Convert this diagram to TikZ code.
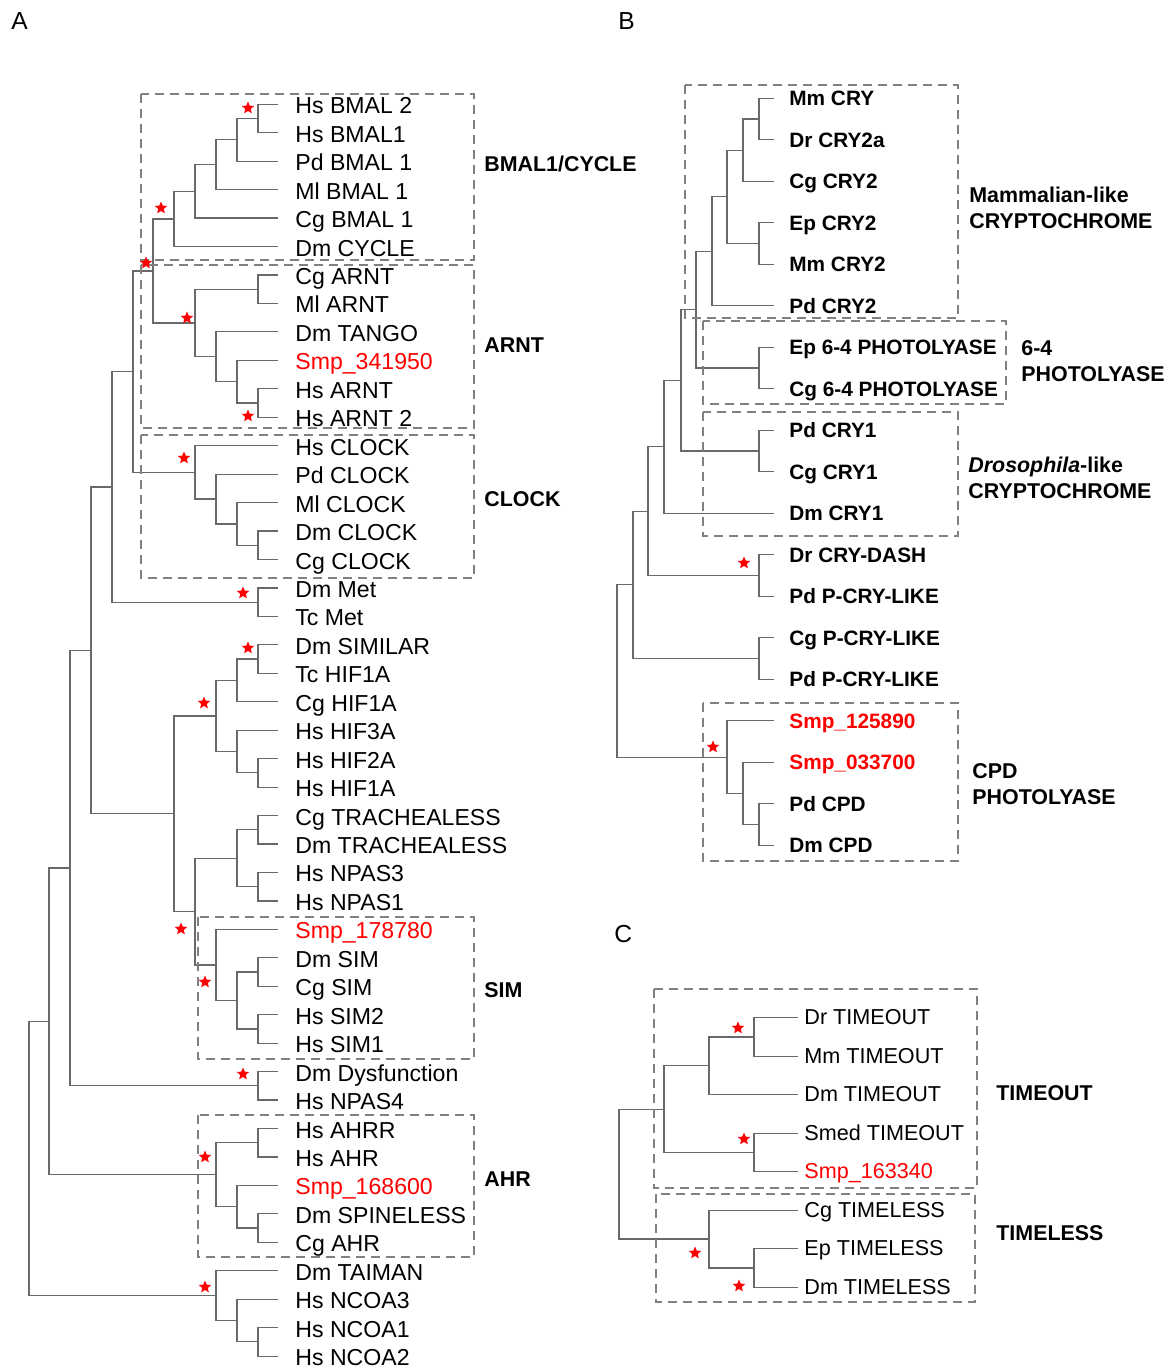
\documentclass[tikz,border=0pt]{standalone}
\usepackage{fontspec}
\setmainfont{Liberation Sans}
\usetikzlibrary{calc,shapes.geometric}

\definecolor{treegray}{RGB}{105,105,105}
\definecolor{boxgray}{RGB}{128,128,128}
\definecolor{smp}{RGB}{255,0,0}

\tikzset{
	branch/.style={draw=treegray, line width=0.6pt},
	grpbox/.style={draw=boxgray, line width=0.9pt, dash pattern=on 4.5pt off 3pt},
	leafA/.style={anchor=base west, inner sep=0pt, font=\fontsize{11.55}{13}\selectfont},
	leafB/.style={anchor=base west, inner sep=0pt, font=\fontsize{10.4}{12}\selectfont\bfseries},
	leafC/.style={anchor=base west, inner sep=0pt, font=\fontsize{10.8}{13}\selectfont},
	grplabel/.style={anchor=base west, inner sep=0pt, align=left, font=\fontsize{10.7}{13}\selectfont\bfseries},
	panel/.style={anchor=base west, inner sep=0pt, font=\fontsize{12.3}{14}\selectfont},
	boot/.style={star, star points=5, star point ratio=2.2, fill=smp, draw=none, inner sep=0pt, minimum size=6.5pt}
}

\newcommand{\clade}[4]{%
	\coordinate (#1m) at ($(#3)!.5!(#4)$);
	\coordinate (#1) at (#2,0 |- #1m);
	\draw[branch] (#3) -| (#1) |- (#4);
}

\begin{document}
\begin{tikzpicture}[x=0.5pt, y=-0.5pt]

	\useasboundingbox (0,0) rectangle (1171,1369);

	\node[panel] (pA) at (11,29.3) {A};
	\node[panel] (pB) at (618,30) {B};
	\node[panel] (pC) at (614,942) {C};

	\foreach \t [count=\i from 0] in {Hs BMAL 2, Hs BMAL1, Pd BMAL 1, Ml BMAL 1, Cg BMAL 1, Dm CYCLE,
		Cg ARNT, Ml ARNT, Dm TANGO, \textcolor{smp}{Smp\_341950}, Hs ARNT, Hs ARNT 2,
		Hs CLOCK, Pd CLOCK, Ml CLOCK, Dm CLOCK, Cg CLOCK, Dm Met, Tc Met,
		Dm SIMILAR, Tc HIF1A, Cg HIF1A, Hs HIF3A, Hs HIF2A, Hs HIF1A,
		Cg TRACHEALESS, Dm TRACHEALESS, Hs NPAS3, Hs NPAS1,
		\textcolor{smp}{Smp\_178780}, Dm SIM, Cg SIM, Hs SIM2, Hs SIM1, Dm Dysfunction, Hs NPAS4,
		Hs AHRR, Hs AHR, \textcolor{smp}{Smp\_168600}, Dm SPINELESS, Cg AHR,
		Dm TAIMAN, Hs NCOA3, Hs NCOA1, Hs NCOA2}
	{
		\coordinate (a\i) at (278,{104.3+28.45*\i});
		\node[leafA] (na\i) at (295,{113.8+28.45*\i}) {\t};
	}

	\clade{c1}{258}{a0}{a1}
	\clade{c2}{237}{c1}{a2}
	\clade{c3}{216}{c2}{a3}
	\clade{c4}{195}{c3}{a4}
	\clade{c5}{174}{c4}{a5}
	\clade{c6}{258}{a6}{a7}
	\clade{c7}{258}{a10}{a11}
	\clade{c8}{237}{a9}{c7}
	\clade{c9}{216}{a8}{c8}
	\clade{c10}{195}{c6}{c9}
	\clade{c11}{153}{c5}{c10}
	\clade{c12}{258}{a15}{a16}
	\clade{c13}{237}{a14}{c12}
	\clade{c14}{216}{a13}{c13}
	\clade{c15}{195}{a12}{c14}
	\clade{c16}{133}{c11}{c15}
	\clade{c17}{258}{a17}{a18}
	\clade{c18}{112}{c16}{c17}
	\clade{c19}{258}{a19}{a20}
	\clade{c20}{237}{c19}{a21}
	\clade{c21}{258}{a23}{a24}
	\clade{c22}{237}{a22}{c21}
	\clade{c23}{216}{c20}{c22}
	\clade{c24}{258}{a25}{a26}
	\clade{c25}{258}{a27}{a28}
	\clade{c26}{237}{c24}{c25}
	\clade{c27}{258}{a30}{a31}
	\clade{c28}{258}{a32}{a33}
	\clade{c29}{237}{c27}{c28}
	\clade{c30}{216}{a29}{c29}
	\clade{c31}{195}{c26}{c30}
	\clade{c32}{174}{c23}{c31}
	\clade{c33}{91}{c18}{c32}
	\clade{c34}{258}{a34}{a35}
	\clade{c35}{70}{c33}{c34}
	\clade{c36}{258}{a36}{a37}
	\clade{c37}{258}{a39}{a40}
	\clade{c38}{237}{a38}{c37}
	\clade{c39}{216}{c36}{c38}
	\clade{c40}{49}{c35}{c39}
	\clade{c41}{258}{a43}{a44}
	\clade{c42}{237}{a42}{c41}
	\clade{c43}{216}{a41}{c42}
	\clade{c44}{29}{c40}{c43}

	\draw[grpbox] (141,94) rectangle (474,260);
	\draw[grpbox] (141,265) rectangle (474,428);
	\draw[grpbox] (141,435) rectangle (474,578);
	\draw[grpbox] (198,917) rectangle (474,1059);
	\draw[grpbox] (198,1115) rectangle (474,1257);

	\node[grplabel] (gbmal) at (484,171.5) {BMAL1/CYCLE};
	\node[grplabel] (garnt) at (484,352.5) {ARNT};
	\node[grplabel] (gclock) at (484,506.5) {CLOCK};
	\node[grplabel] (gsim) at (484,997.5) {SIM};
	\node[grplabel] (gahr) at (484,1186.5) {AHR};

	\foreach \t [count=\i from 0] in {Mm CRY, Dr CRY2a, Cg CRY2, Ep CRY2, Mm CRY2, Pd CRY2,
		Ep 6-4 PHOTOLYASE, Cg 6-4 PHOTOLYASE, Pd CRY1, Cg CRY1, Dm CRY1,
		Dr CRY-DASH, Pd P-CRY-LIKE, Cg P-CRY-LIKE, Pd P-CRY-LIKE,
		\textcolor{smp}{Smp\_125890}, \textcolor{smp}{Smp\_033700}, Pd CPD, Dm CPD}
	{
		\coordinate (b\i) at (774,{98.3+41.5*\i});
		\node[leafB] (nb\i) at (789,{105.8+41.5*\i}) {\t};
	}

	\clade{d1}{759}{b0}{b1}
	\clade{d2}{743}{d1}{b2}
	\clade{d3}{759}{b3}{b4}
	\clade{d4}{727}{d2}{d3}
	\clade{d5}{712}{d4}{b5}
	\clade{d6}{759}{b6}{b7}
	\clade{d7}{696}{d5}{d6}
	\clade{d8}{759}{b8}{b9}
	\clade{d9}{681}{d7}{d8}
	\clade{d10}{664}{d9}{b10}
	\clade{d11}{759}{b11}{b12}
	\clade{d12}{648}{d10}{d11}
	\clade{d13}{759}{b13}{b14}
	\clade{d14}{633}{d12}{d13}
	\clade{d15}{759}{b17}{b18}
	\clade{d16}{743}{b16}{d15}
	\clade{d17}{727}{b15}{d16}
	\clade{d18}{617}{d14}{d17}

	\draw[grpbox] (685,85) rectangle (958,318);
	\draw[grpbox] (703,321) rectangle (1006,404);
	\draw[grpbox] (703,412) rectangle (958,536);
	\draw[grpbox] (703,703) rectangle (958,861);

	\node[grplabel] (gmam) at (969,229) {Mammalian-like\\CRYPTOCHROME};
	\node[grplabel] (gphot) at (1021,381) {6-4\\PHOTOLYASE};
	\node[grplabel] (gdros) at (968,498.3) {\textit{Drosophila}-like\\CRYPTOCHROME};
	\node[grplabel] (gcpd) at (972,804) {CPD\\PHOTOLYASE};

	\foreach \t [count=\i from 0] in {Dr TIMEOUT, Mm TIMEOUT, Dm TIMEOUT, Smed TIMEOUT,
		\textcolor{smp}{Smp\_163340}, Cg TIMELESS, Ep TIMELESS, Dm TIMELESS}
	{
		\coordinate (e\i) at (798,{1017.7+38.5*\i});
		\node[leafC] (ne\i) at (804,{1024.7+38.5*\i}) {\t};
	}

	\clade{f1}{754}{e0}{e1}
	\clade{f2}{709}{f1}{e2}
	\clade{f3}{754}{e3}{e4}
	\clade{f4}{664}{f2}{f3}
	\clade{f5}{754}{e6}{e7}
	\clade{f6}{709}{e5}{f5}
	\clade{f7}{619}{f4}{f6}

	\draw[grpbox] (654,989) rectangle (977,1188);
	\draw[grpbox] (656,1194) rectangle (975,1302);

	\node[grplabel] (gtim) at (996,1100.7) {TIMEOUT};
	\node[grplabel] (gtimeless) at (996,1240) {TIMELESS};

	\foreach \p [count=\i] in {(248,108), (161,208), (146,263), (187,318), (248,416), (184,458),
		(243,593), (248,648), (204,703), (181,929), (205,982), (243,1074), (205,1157), (205,1287),
		(744,563), (713,747), (738,1028), (744,1139), (695,1253), (739,1286)}
		\node[boot] (st\i) at \p {};

\end{tikzpicture}
\end{document}
